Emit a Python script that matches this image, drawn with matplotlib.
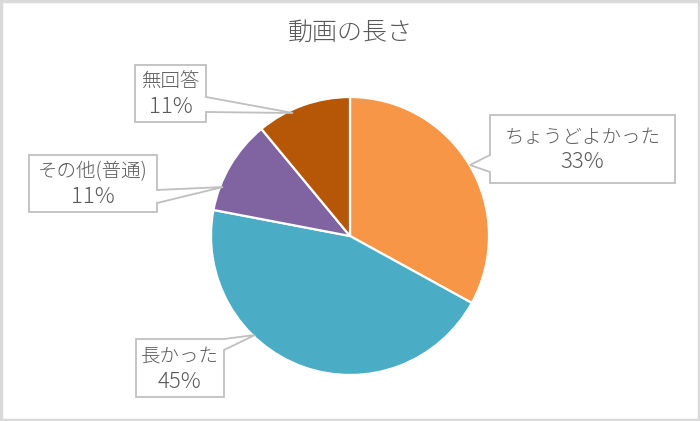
import matplotlib
matplotlib.use("Agg")
import matplotlib.pyplot as plt
from matplotlib.patches import Polygon, Rectangle

plt.rcParams['font.family'] = ['Noto Sans CJK JP', 'DejaVu Sans']

# Daten
categories = ["ちょうどよかった", "長かった", "その他(普通)", "無回答"]
shares = [33, 45, 11, 11]
colors = ["#F79646", "#4BACC6", "#8064A2", "#B65708"]
title = "動画の長さ"

W, H = 700, 421
TEXT = "#595959"


def Y(py):
    # Pixel von oben -> Datenkoordinate von unten
    return H - py


def callout(ax, box, tip, side, base, name, pct):
    x0, y0, x1, y1 = box
    b0, b1 = base
    tx, ty = tip
    if side == "right":
        pts = [(x0, y0), (x1, y0), (x1, b0), (tx, ty), (x1, b1), (x1, y1), (x0, y1)]
    else:
        pts = [(x0, y0), (x1, y0), (x1, y1), (x0, y1), (x0, b1), (tx, ty), (x0, b0)]
    pts = [(x, Y(y)) for x, y in pts]
    ax.add_patch(Polygon(pts, closed=True, fc="white", ec="#BFBFBF", lw=1.3, zorder=5))
    cx, cy = (x0 + x1) / 2, (y0 + y1) / 2
    ax.text(cx, Y(cy - 11.5), name, ha="center", va="center",
            fontsize=14, color=TEXT, fontweight="light", zorder=6)
    ax.text(cx, Y(cy + 13.5), pct, ha="center", va="center",
            fontsize=16, color=TEXT, fontweight="light", zorder=6)


fig = plt.figure(figsize=(W / 100, H / 100), dpi=100)
ax = fig.add_axes([0, 0, 1, 1])

wedges, _ = ax.pie(shares, colors=colors, startangle=90, counterclock=False,
                   center=(350, Y(236)), radius=139,
                   wedgeprops=dict(edgecolor="white", linewidth=1.6))

ax.set_xlim(0, W)
ax.set_ylim(0, H)
ax.set_aspect("equal")
ax.axis("off")

# Rahmen
ax.add_patch(Rectangle((1, 1), W - 2, H - 2, fill=False, ec="#D9D9D9", lw=2.5, zorder=10))

ax.text(350, Y(33), title, ha="center", va="center", fontsize=18,
        color=TEXT, fontweight="light")

# Beschriftungen mit Sprechblasen
pcts = [f"{s}%" for s in shares]
callout(ax, (490, 115, 675, 183), (470, 165), "left", (155, 172), categories[0], pcts[0])
callout(ax, (136, 339, 224, 397), (255, 335), "right", (339, 350), categories[1], pcts[1])
callout(ax, (29, 155, 157, 212), (223, 187), "right", (190, 203), categories[2], pcts[2])
callout(ax, (135, 65, 206, 122), (293, 113), "right", (97, 112), categories[3], pcts[3])

fig.savefig("out.png", dpi=100)
